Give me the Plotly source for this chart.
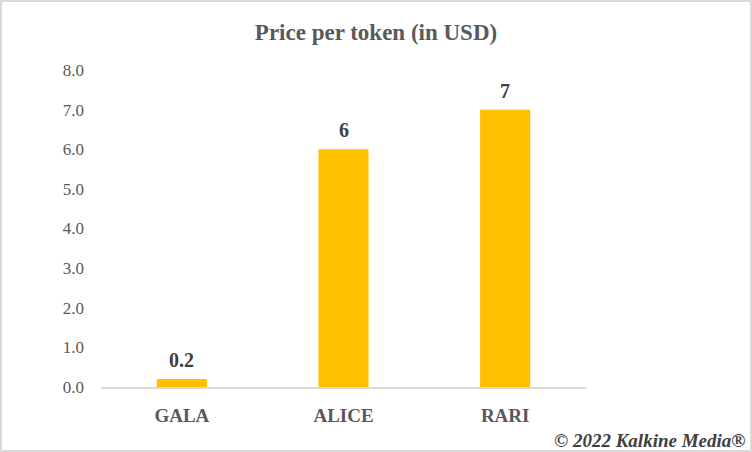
import plotly.graph_objects as go

categories = ["GALA", "ALICE", "RARI"]
prices = [0.2, 6, 7]
value_labels = ["0.2", "6", "7"]
y_ticks = [0, 1, 2, 3, 4, 5, 6, 7, 8]
y_tick_labels = ["0.0", "1.0", "2.0", "3.0", "4.0", "5.0", "6.0", "7.0", "8.0"]

W, H = 752, 452
L, R, T, B = 101, 166, 70, 65
pw, ph = W - L - R, H - T - B

fig = go.Figure(go.Bar(
    x=categories, y=prices,
    marker=dict(color="#FFC000", line=dict(width=0)),
    width=0.31,
    hoverinfo="x+y",
))

for c, v, lab in zip(categories, prices, value_labels):
    fig.add_annotation(x=c, y=v, text=f"<b>{lab}</b>", showarrow=False,
                       yanchor="bottom", yshift=6,
                       font=dict(family="Liberation Serif", size=20, color="#404040"))

fig.update_layout(
    width=W, height=H,
    margin=dict(l=L, r=R, t=T, b=B, pad=0),
    paper_bgcolor="white", plot_bgcolor="white",
    showlegend=False,
    title=dict(text="<b>Price per token (in USD)</b>", x=0.5, xref="container",
               xanchor="center", y=1 - 32 / H, yref="container", yanchor="middle",
               font=dict(family="Liberation Serif", size=23, color="#595959")),
    xaxis=dict(showgrid=False, showline=True, linecolor="#D9D9D9", linewidth=1.5,
               ticks="", tickfont=dict(family="Liberation Serif", size=19, color="#595959"),
               tickprefix="<b>", ticksuffix="</b>", ticklabelstandoff=10),
    yaxis=dict(range=[0, 8], showgrid=False, zeroline=False, showline=False,
               tickvals=y_ticks, ticktext=y_tick_labels, ticks="",
               tickfont=dict(family="Liberation Serif", size=17, color="#595959"),
               ticklabelstandoff=16),
    bargap=0.69,
)

fig.add_annotation(text="<b><i>© 2022 Kalkine Media®</i></b>", xref="paper", yref="paper",
                   x=(W - 5 - L) / pw, y=-(440 - T - ph) / ph, xanchor="right", yanchor="middle",
                   showarrow=False,
                   font=dict(family="Liberation Serif", size=19, color="#404040"))

fig.add_shape(type="rect", xref="paper", yref="paper",
              x0=-(L - 1) / pw, x1=(pw + R - 1) / pw,
              y0=-(B - 1) / ph, y1=(ph + T - 1) / ph,
              line=dict(color="#D9D9D9", width=2), fillcolor="rgba(0,0,0,0)", layer="below")

fig.write_html("out.html", config={"displayModeBar": False},
               post_script="document.body.style.margin='0';document.body.style.overflow='hidden';")
